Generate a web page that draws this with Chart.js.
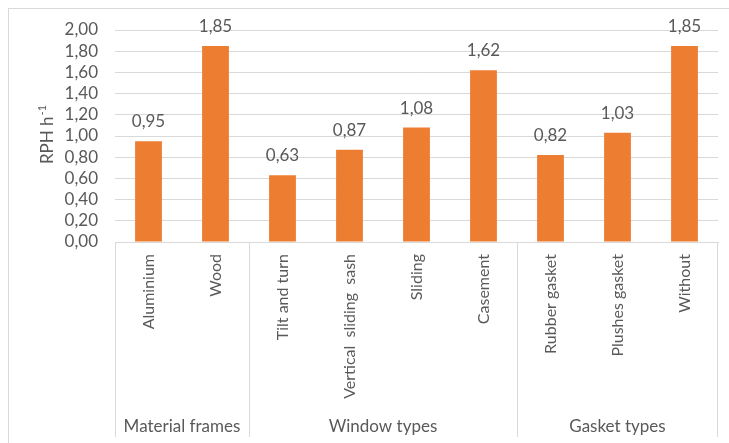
<!DOCTYPE html>
<html>
<head>
<meta charset="utf-8">
<script src="https://cdn.jsdelivr.net/npm/chart.js@4.4.1/dist/chart.umd.min.js"></script>
<style>
  html, body { margin: 0; padding: 0; background: #fff; }
  #wrap { position: relative; width: 729px; height: 443px; }
</style>
</head>
<body>
<div id="wrap"><canvas id="rph" width="729" height="443"></canvas></div>
<script>
// Air change rate per window feature
const categories = ['Aluminium', 'Wood', 'Tilt and turn', 'Vertical  sliding  sash', 'Sliding', 'Casement', 'Rubber gasket', 'Plushes gasket', 'Without'];
const rphValues = [0.95, 1.85, 0.63, 0.87, 1.08, 1.62, 0.82, 1.03, 1.85];
const groupNames = ['Material frames', 'Window types', 'Gasket types'];
const groupSizes = [2, 4, 3];

const TEXT = '#595959';
const GRID = '#D9D9D9';
const FONT = 'Lato, "Open Sans", sans-serif';

const fmt = v => Number(v).toFixed(2).replace('.', ',');

// frame, value labels, group separators and the axis title
const decorations = {
  id: 'decorations',
  beforeDraw(chart) {
    const ctx = chart.ctx;
    ctx.save();
    ctx.strokeStyle = GRID;
    ctx.lineWidth = 1;
    ctx.strokeRect(8.5, 8.5, 760, 460);
    ctx.restore();
  },
  afterDatasetsDraw(chart) {
    const ctx = chart.ctx;
    const meta = chart.getDatasetMeta(0);
    ctx.save();
    ctx.font = '17px ' + FONT;
    ctx.fillStyle = TEXT;
    ctx.textAlign = 'center';
    ctx.textBaseline = 'alphabetic';
    meta.data.forEach((bar, i) => {
      ctx.fillText(fmt(rphValues[i]), bar.x, bar.y - 14);
    });
    ctx.restore();
  },
  afterDraw(chart) {
    const ctx = chart.ctx;
    const x = chart.scales.x;
    const area = chart.chartArea;
    const bottom = 437;
    const edge = i => {
      if (i <= 0) return area.left;
      if (i >= categories.length) return area.right;
      return (x.getPixelForValue(i - 1) + x.getPixelForValue(i)) / 2;
    };

    ctx.save();
    ctx.strokeStyle = GRID;
    ctx.lineWidth = 1;
    ctx.font = '17px ' + FONT;
    ctx.fillStyle = TEXT;
    ctx.textAlign = 'center';
    ctx.textBaseline = 'alphabetic';
    let start = 0;
    groupNames.forEach((name, g) => {
      const l = edge(start);
      const r = edge(start + groupSizes[g]);
      ctx.beginPath();
      ctx.moveTo(Math.round(l) + 0.5, area.bottom);
      ctx.lineTo(Math.round(l) + 0.5, bottom);
      ctx.stroke();
      if (g === groupNames.length - 1) {
        ctx.beginPath();
        ctx.moveTo(Math.round(r) - 0.5, area.bottom);
        ctx.lineTo(Math.round(r) - 0.5, bottom);
        ctx.stroke();
      }
      ctx.fillText(name, (l + r) / 2, 432);
      start += groupSizes[g];
    });

    // y axis title with superscript
    const cy = (area.top + area.bottom) / 2 - 1;
    ctx.translate(53, cy);
    ctx.rotate(-Math.PI / 2);
    ctx.textAlign = 'left';
    const main = 'RPH h';
    ctx.font = '11px ' + FONT;
    const supW = ctx.measureText('-1').width;
    ctx.font = '17px ' + FONT;
    const mainW = ctx.measureText(main).width;
    const x0 = -(mainW + supW) / 2;
    ctx.fillText(main, x0, 0);
    ctx.font = '11px ' + FONT;
    ctx.fillText('-1', x0 + mainW + 1, -7);
    ctx.restore();
  }
};

new Chart(document.getElementById('rph'), {
  type: 'bar',
  data: {
    labels: categories,
    datasets: [{
      data: rphValues,
      backgroundColor: '#ED7D31',
      borderWidth: 0,
      categoryPercentage: 1,
      barPercentage: 0.4
    }]
  },
  options: {
    responsive: false,
    animation: false,
    devicePixelRatio: 1,
    layout: { padding: { top: 30, right: 11, bottom: 0, left: 0 } },
    plugins: {
      legend: { display: false },
      tooltip: { enabled: false }
    },
    scales: {
      x: {
        grid: { display: false, drawTicks: false },
        border: { display: true, color: GRID },
        ticks: {
          color: TEXT,
          font: { family: FONT, size: 16 },
          autoSkip: false,
          minRotation: 90,
          maxRotation: 90,
          padding: 12
        },
        afterFit(scale) { scale.height = 201; }
      },
      y: {
        min: 0,
        max: 2,
        grid: { color: GRID, drawTicks: false },
        border: { display: false },
        ticks: {
          stepSize: 0.2,
          autoSkip: false,
          color: TEXT,
          font: { family: FONT, size: 17 },
          padding: 17,
          callback: v => fmt(v)
        },
        afterFit(scale) { scale.width = 115; }
      }
    }
  },
  plugins: [decorations]
});
</script>
</body>
</html>
